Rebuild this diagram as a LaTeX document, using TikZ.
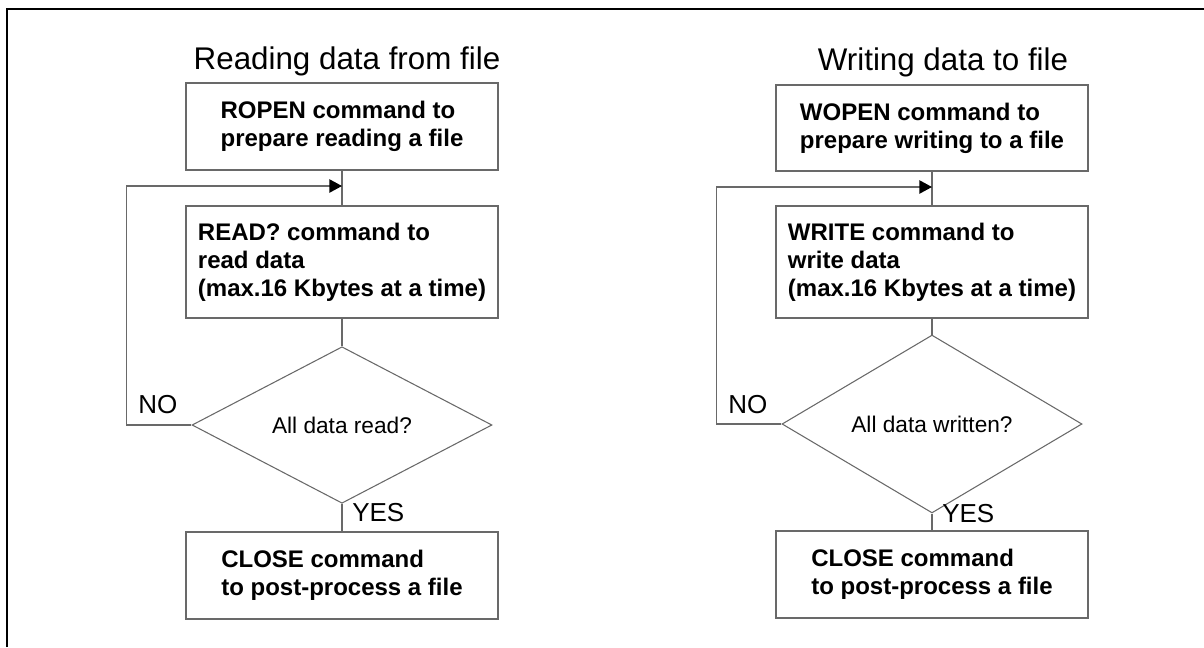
\documentclass[tikz,border=0pt]{standalone}
\usepackage{fontspec}
\setmainfont{Liberation Sans}
\usetikzlibrary{shapes.geometric, arrows.meta}
\definecolor{linegray}{RGB}{105,105,105}

\begin{document}
\begin{tikzpicture}[x=0.75pt, y=-0.75pt,
  cmdbox/.style={draw=linegray, line width=1.1pt, align=left, inner sep=0pt, minimum width=234pt, font=\fontsize{18pt}{21pt}\selectfont\bfseries},
  decide/.style={diamond, draw=linegray, line width=0.8pt, inner sep=0pt, minimum width=225pt, minimum height=108pt, font=\fontsize{17pt}{20pt}\selectfont},
  head/.style={anchor=base, inner sep=0pt, font=\fontsize{23.5pt}{28pt}\selectfont},
  answer/.style={anchor=base west, inner sep=0pt, font=\fontsize{19.5pt}{23pt}\selectfont},
  flow/.style={draw=linegray, line width=1.1pt},
  back/.style={flow, -{Triangle[length=9.5pt, width=10pt, color=black]}}]

\useasboundingbox (0,0) rectangle (1204,647);
\draw[line width=2pt] (7,647) -- (7,9) -- (1204,9);

\node[head] (rtitle) at (347,69) {Reading data from file};
\node[cmdbox, minimum height=65.25pt] (ropen) at (342,126.5) {ROPEN command to\\prepare reading a file};
\node[cmdbox, minimum height=84pt] (rread) at (342,262) {READ? command to\\read data\\(max.16 Kbytes at a time)};
\node[decide] (rdec) at (342,425) {All data read?};
\node[cmdbox, minimum height=65.25pt] (rclose) at (342,575.5) {CLOSE command\\to post-process a file};
\coordinate (rjoin) at (342,186);
\node[answer] (rno) at (138,413) {NO};
\node[answer] (ryes) at (352,521) {YES};

\draw[flow] (ropen) -- (rread);
\draw[flow] (rread) -- (rdec);
\draw[flow] (rdec) -- (rclose);
\draw[back] (rdec.west) -- ++(-65,0) |- (rjoin);

\node[head] (wtitle) at (943,70) {Writing data to file};
\node[cmdbox, minimum height=64.5pt] (wopen) at (932,128) {WOPEN command to\\prepare writing to a file};
\node[cmdbox, minimum height=84pt] (wwrite) at (932,262) {WRITE command to\\write data\\(max.16 Kbytes at a time)};
\node[decide] (wdec) at (932,424) {All data written?};
\node[cmdbox, minimum height=65.25pt] (wclose) at (932,574.5) {CLOSE command\\to post-process a file};
\coordinate (wjoin) at (932,187);
\node[answer] (wno) at (728,413) {NO};
\node[answer] (wyes) at (942,522) {YES};

\draw[flow] (wopen) -- (wwrite);
\draw[flow] (wwrite) -- (wdec);
\draw[flow] (wdec) -- (wclose);
\draw[back] (wdec.west) -- ++(-65,0) |- (wjoin);
\end{tikzpicture}
\end{document}
